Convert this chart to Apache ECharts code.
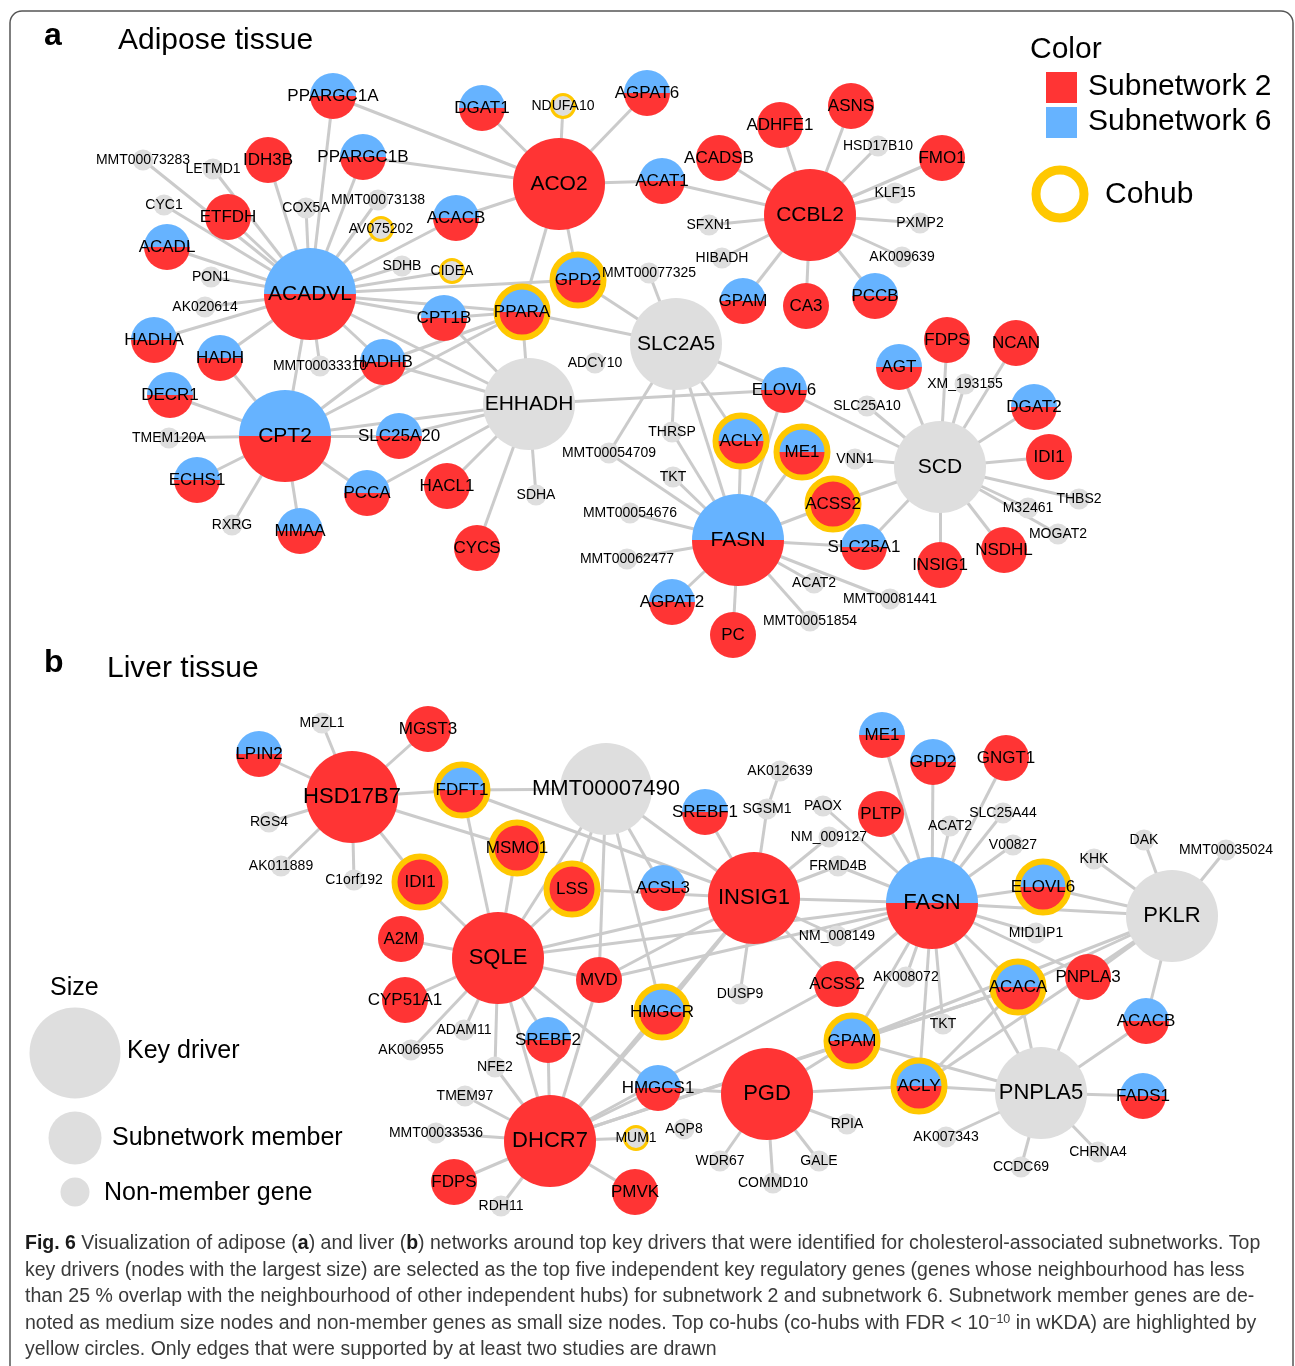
<!DOCTYPE html>
<html>
<head>
<meta charset="utf-8">
<script src="https://cdn.jsdelivr.net/npm/echarts@6/dist/echarts.min.js"></script>
<style>
  html, body { margin: 0; padding: 0; background: #fff; }
  #chart { width: 1295px; height: 1366px; }
</style>
</head>
<body>
<div id="chart"></div>
<script>
// node rows: [gene, kind, subnetwork membership, cohub, layoutX, layoutY]
const adiposeNodes = [
  ['MMT00073283', 'gene', '', 0, 143, 160],
  ['LETMD1', 'gene', '', 0, 213, 169],
  ['CYC1', 'gene', '', 0, 164, 205],
  ['COX5A', 'gene', '', 0, 306, 208],
  ['MMT00073138', 'gene', '', 0, 378, 200],
  ['AV075202', 'gene', '', 1, 381, 229],
  ['PON1', 'gene', '', 0, 211, 277],
  ['AK020614', 'gene', '', 0, 205, 307],
  ['SDHB', 'gene', '', 0, 402, 266],
  ['CIDEA', 'gene', '', 1, 452, 271],
  ['NDUFA10', 'gene', '', 1, 563, 106],
  ['MMT00077325', 'gene', '', 0, 649, 273],
  ['SFXN1', 'gene', '', 0, 709, 225],
  ['HIBADH', 'gene', '', 0, 722, 258],
  ['HSD17B10', 'gene', '', 0, 878, 146],
  ['KLF15', 'gene', '', 0, 895, 193],
  ['PXMP2', 'gene', '', 0, 920, 223],
  ['AK009639', 'gene', '', 0, 902, 257],
  ['MMT00033310', 'gene', '', 0, 320, 366],
  ['TMEM120A', 'gene', '', 0, 169, 438],
  ['RXRG', 'gene', '', 0, 232, 525],
  ['ADCY10', 'gene', '', 0, 595, 363],
  ['THRSP', 'gene', '', 0, 672, 432],
  ['MMT00054709', 'gene', '', 0, 609, 453],
  ['TKT', 'gene', '', 0, 673, 477],
  ['SDHA', 'gene', '', 0, 536, 495],
  ['MMT00054676', 'gene', '', 0, 630, 513],
  ['MMT00062477', 'gene', '', 0, 627, 559],
  ['VNN1', 'gene', '', 0, 855, 459],
  ['SLC25A10', 'gene', '', 0, 867, 406],
  ['ACAT2', 'gene', '', 0, 814, 583],
  ['MMT00051854', 'gene', '', 0, 810, 621],
  ['MMT00081441', 'gene', '', 0, 890, 599],
  ['XM_193155', 'gene', '', 0, 965, 384],
  ['THBS2', 'gene', '', 0, 1079, 499],
  ['M32461', 'gene', '', 0, 1028, 508],
  ['MOGAT2', 'gene', '', 0, 1058, 534],
  ['PPARGC1A', 'member', 'S2+S6', 0, 333, 96],
  ['IDH3B', 'member', 'S2', 0, 268, 160],
  ['PPARGC1B', 'member', 'S2+S6', 0, 363, 157],
  ['ETFDH', 'member', 'S2', 0, 228, 217],
  ['ACADL', 'member', 'S2+S6', 0, 167, 247],
  ['HADHA', 'member', 'S2+S6', 0, 154, 340],
  ['HADH', 'member', 'S2+S6', 0, 220, 358],
  ['DECR1', 'member', 'S2+S6', 0, 170, 395],
  ['ECHS1', 'member', 'S2+S6', 0, 197, 480],
  ['MMAA', 'member', 'S2+S6', 0, 300, 531],
  ['PCCA', 'member', 'S2+S6', 0, 367, 493],
  ['SLC25A20', 'member', 'S2+S6', 0, 399, 436],
  ['HADHB', 'member', 'S2+S6', 0, 383, 362],
  ['HACL1', 'member', 'S2', 0, 447, 486],
  ['CYCS', 'member', 'S2', 0, 477, 548],
  ['CPT1B', 'member', 'S2+S6', 0, 444, 318],
  ['ACACB', 'member', 'S2+S6', 0, 456, 218],
  ['DGAT1', 'member', 'S2+S6', 0, 482, 108],
  ['AGPAT6', 'member', 'S2+S6', 0, 647, 93],
  ['ACAT1', 'member', 'S2+S6', 0, 662, 181],
  ['ACADSB', 'member', 'S2', 0, 719, 158],
  ['ADHFE1', 'member', 'S2', 0, 780, 125],
  ['ASNS', 'member', 'S2', 0, 851, 106],
  ['FMO1', 'member', 'S2', 0, 942, 158],
  ['GPAM', 'member', 'S2+S6', 0, 743, 301],
  ['CA3', 'member', 'S2', 0, 806, 306],
  ['PCCB', 'member', 'S2+S6', 0, 875, 296],
  ['GPD2', 'member', 'S2+S6', 1, 578, 280],
  ['PPARA', 'member', 'S2+S6', 1, 522, 312],
  ['ELOVL6', 'member', 'S2+S6', 0, 784, 390],
  ['ACLY', 'member', 'S2+S6', 1, 741, 441],
  ['ME1', 'member', 'S2+S6', 1, 802, 452],
  ['ACSS2', 'member', 'S2', 1, 833, 504],
  ['SLC25A1', 'member', 'S2+S6', 0, 864, 547],
  ['AGPAT2', 'member', 'S2+S6', 0, 672, 602],
  ['PC', 'member', 'S2', 0, 733, 635],
  ['AGT', 'member', 'S2+S6', 0, 899, 367],
  ['FDPS', 'member', 'S2', 0, 947, 340],
  ['NCAN', 'member', 'S2', 0, 1016, 343],
  ['DGAT2', 'member', 'S2+S6', 0, 1034, 407],
  ['IDI1', 'member', 'S2', 0, 1049, 457],
  ['NSDHL', 'member', 'S2', 0, 1004, 550],
  ['INSIG1', 'member', 'S2', 0, 940, 565],
  ['ACADVL', 'hub', 'S2+S6', 0, 310, 294],
  ['CPT2', 'hub', 'S2+S6', 0, 285, 436],
  ['ACO2', 'hub', 'S2', 0, 559, 184],
  ['CCBL2', 'hub', 'S2', 0, 810, 215],
  ['EHHADH', 'hub', '', 0, 529, 404],
  ['SLC2A5', 'hub', '', 0, 676, 344],
  ['FASN', 'hub', 'S2+S6', 0, 738, 540],
  ['SCD', 'hub', '', 0, 940, 467]
];

const adiposeEdges = [
  ['ACADVL', 'PPARGC1A'], ['ACADVL', 'PPARGC1B'], ['ACADVL', 'IDH3B'], ['ACADVL', 'ETFDH'],
  ['ACADVL', 'LETMD1'], ['ACADVL', 'MMT00073283'], ['ACADVL', 'CYC1'], ['ACADVL', 'ACADL'],
  ['ACADVL', 'PON1'], ['ACADVL', 'AK020614'], ['ACADVL', 'HADHA'], ['ACADVL', 'HADH'],
  ['ACADVL', 'COX5A'], ['ACADVL', 'MMT00073138'], ['ACADVL', 'AV075202'], ['ACADVL', 'ACACB'],
  ['ACADVL', 'SDHB'], ['ACADVL', 'CIDEA'], ['ACADVL', 'CPT1B'], ['ACADVL', 'PPARA'],
  ['ACADVL', 'GPD2'], ['ACADVL', 'HADHB'], ['ACADVL', 'EHHADH'], ['ACADVL', 'CPT2'],
  ['ACADVL', 'MMT00033310'],
  ['ACO2', 'PPARGC1A'], ['ACO2', 'PPARGC1B'], ['ACO2', 'ACACB'], ['ACO2', 'DGAT1'],
  ['ACO2', 'NDUFA10'], ['ACO2', 'AGPAT6'], ['ACO2', 'ACAT1'], ['ACO2', 'PPARA'], ['ACO2', 'GPD2'],
  ['CCBL2', 'ACAT1'], ['CCBL2', 'ACADSB'], ['CCBL2', 'ADHFE1'], ['CCBL2', 'ASNS'],
  ['CCBL2', 'HSD17B10'], ['CCBL2', 'FMO1'], ['CCBL2', 'KLF15'], ['CCBL2', 'PXMP2'],
  ['CCBL2', 'AK009639'], ['CCBL2', 'PCCB'], ['CCBL2', 'CA3'], ['CCBL2', 'GPAM'],
  ['CCBL2', 'HIBADH'], ['CCBL2', 'SFXN1'],
  ['CPT2', 'HADH'], ['CPT2', 'DECR1'], ['CPT2', 'TMEM120A'], ['CPT2', 'ECHS1'],
  ['CPT2', 'RXRG'], ['CPT2', 'MMAA'], ['CPT2', 'PCCA'], ['CPT2', 'SLC25A20'],
  ['CPT2', 'HADHB'], ['CPT2', 'PPARA'], ['CPT2', 'EHHADH'],
  ['EHHADH', 'HADHB'], ['EHHADH', 'SLC25A20'], ['EHHADH', 'PCCA'], ['EHHADH', 'HACL1'],
  ['EHHADH', 'CYCS'], ['EHHADH', 'SDHA'], ['EHHADH', 'ELOVL6'], ['EHHADH', 'PPARA'],
  ['EHHADH', 'CPT1B'],
  ['HADHB', 'PPARA'], ['PPARA', 'CPT1B'],
  ['SLC2A5', 'GPD2'], ['SLC2A5', 'PPARA'], ['SLC2A5', 'MMT00077325'], ['SLC2A5', 'THRSP'],
  ['SLC2A5', 'MMT00054709'], ['SLC2A5', 'FASN'], ['SLC2A5', 'ACLY'], ['SLC2A5', 'ELOVL6'],
  ['FASN', 'THRSP'], ['FASN', 'TKT'], ['FASN', 'MMT00054709'], ['FASN', 'MMT00054676'],
  ['FASN', 'MMT00062477'], ['FASN', 'AGPAT2'], ['FASN', 'PC'], ['FASN', 'ACAT2'],
  ['FASN', 'MMT00051854'], ['FASN', 'MMT00081441'], ['FASN', 'SLC25A1'], ['FASN', 'ACSS2'],
  ['FASN', 'ME1'], ['FASN', 'ACLY'], ['FASN', 'ELOVL6'],
  ['SCD', 'AGT'], ['SCD', 'FDPS'], ['SCD', 'XM_193155'], ['SCD', 'NCAN'], ['SCD', 'DGAT2'],
  ['SCD', 'IDI1'], ['SCD', 'THBS2'], ['SCD', 'M32461'], ['SCD', 'MOGAT2'], ['SCD', 'NSDHL'],
  ['SCD', 'INSIG1'], ['SCD', 'SLC25A1'], ['SCD', 'ACSS2'], ['SCD', 'VNN1'],
  ['SCD', 'SLC25A10'], ['SCD', 'ELOVL6']
];

const liverNodes = [
  ['MPZL1', 'gene', '', 0, 322, 723],
  ['RGS4', 'gene', '', 0, 269, 822],
  ['AK011889', 'gene', '', 0, 281, 866],
  ['C1orf192', 'gene', '', 0, 354, 880],
  ['AK012639', 'gene', '', 0, 780, 771],
  ['SGSM1', 'gene', '', 0, 767, 809],
  ['PAOX', 'gene', '', 0, 823, 806],
  ['NM_009127', 'gene', '', 0, 829, 837],
  ['FRMD4B', 'gene', '', 0, 838, 866],
  ['NM_008149', 'gene', '', 0, 837, 936],
  ['ACAT2', 'gene', '', 0, 950, 826],
  ['SLC25A44', 'gene', '', 0, 1003, 813],
  ['V00827', 'gene', '', 0, 1013, 845],
  ['KHK', 'gene', '', 0, 1094, 859],
  ['DAK', 'gene', '', 0, 1144, 840],
  ['MMT00035024', 'gene', '', 0, 1226, 850],
  ['MID1IP1', 'gene', '', 0, 1036, 933],
  ['AK008072', 'gene', '', 0, 906, 977],
  ['DUSP9', 'gene', '', 0, 740, 994],
  ['TKT', 'gene', '', 0, 943, 1024],
  ['RPIA', 'gene', '', 0, 847, 1124],
  ['AK007343', 'gene', '', 0, 946, 1137],
  ['GALE', 'gene', '', 0, 819, 1161],
  ['COMMD10', 'gene', '', 0, 773, 1183],
  ['WDR67', 'gene', '', 0, 720, 1161],
  ['CCDC69', 'gene', '', 0, 1021, 1167],
  ['CHRNA4', 'gene', '', 0, 1098, 1152],
  ['AQP8', 'gene', '', 0, 684, 1129],
  ['MUM1', 'gene', '', 1, 636, 1138],
  ['ADAM11', 'gene', '', 0, 464, 1030],
  ['AK006955', 'gene', '', 0, 411, 1050],
  ['NFE2', 'gene', '', 0, 495, 1067],
  ['TMEM97', 'gene', '', 0, 465, 1096],
  ['MMT00033536', 'gene', '', 0, 436, 1133],
  ['RDH11', 'gene', '', 0, 501, 1206],
  ['LPIN2', 'member', 'S2+S6', 0, 259, 754],
  ['MGST3', 'member', 'S2', 0, 428, 729],
  ['FDFT1', 'member', 'S2+S6', 1, 462, 790],
  ['MSMO1', 'member', 'S2', 1, 517, 848],
  ['IDI1', 'member', 'S2', 1, 420, 882],
  ['LSS', 'member', 'S2', 1, 572, 889],
  ['A2M', 'member', 'S2', 0, 401, 939],
  ['SREBF1', 'member', 'S2+S6', 0, 705, 812],
  ['ACSL3', 'member', 'S2+S6', 0, 663, 888],
  ['ME1', 'member', 'S2+S6', 0, 882, 735],
  ['GPD2', 'member', 'S2+S6', 0, 933, 762],
  ['PLTP', 'member', 'S2', 0, 881, 814],
  ['GNGT1', 'member', 'S2', 0, 1006, 758],
  ['ELOVL6', 'member', 'S2+S6', 1, 1043, 887],
  ['PNPLA3', 'member', 'S2', 0, 1088, 977],
  ['ACACA', 'member', 'S2+S6', 1, 1018, 987],
  ['ACACB', 'member', 'S2+S6', 0, 1146, 1021],
  ['FADS1', 'member', 'S2+S6', 0, 1143, 1096],
  ['ACLY', 'member', 'S2+S6', 1, 919, 1086],
  ['GPAM', 'member', 'S2+S6', 1, 852, 1041],
  ['ACSS2', 'member', 'S2', 0, 837, 984],
  ['MVD', 'member', 'S2', 0, 599, 980],
  ['HMGCR', 'member', 'S2+S6', 1, 662, 1012],
  ['CYP51A1', 'member', 'S2', 0, 405, 1000],
  ['SREBF2', 'member', 'S2+S6', 0, 548, 1040],
  ['HMGCS1', 'member', 'S2+S6', 0, 658, 1088],
  ['FDPS', 'member', 'S2', 0, 454, 1182],
  ['PMVK', 'member', 'S2', 0, 635, 1192],
  ['HSD17B7', 'hub', 'S2', 0, 352, 797],
  ['MMT00007490', 'hub', '', 0, 606, 789],
  ['INSIG1', 'hub', 'S2', 0, 754, 898],
  ['FASN', 'hub', 'S2+S6', 0, 932, 903],
  ['PKLR', 'hub', '', 0, 1172, 916],
  ['SQLE', 'hub', 'S2', 0, 498, 958],
  ['PGD', 'hub', 'S2', 0, 767, 1094],
  ['DHCR7', 'hub', 'S2', 0, 550, 1141],
  ['PNPLA5', 'hub', '', 0, 1041, 1093]
];

const liverEdges = [
  ['HSD17B7', 'LPIN2'], ['HSD17B7', 'MPZL1'], ['HSD17B7', 'MGST3'], ['HSD17B7', 'RGS4'],
  ['HSD17B7', 'AK011889'], ['HSD17B7', 'C1orf192'], ['HSD17B7', 'FDFT1'], ['HSD17B7', 'IDI1'],
  ['HSD17B7', 'MSMO1'],
  ['FDFT1', 'MMT00007490'], ['FDFT1', 'INSIG1'], ['FDFT1', 'SQLE'],
  ['SQLE', 'IDI1'], ['SQLE', 'MSMO1'], ['SQLE', 'LSS'], ['SQLE', 'A2M'], ['SQLE', 'CYP51A1'],
  ['SQLE', 'ADAM11'], ['SQLE', 'AK006955'], ['SQLE', 'NFE2'], ['SQLE', 'SREBF2'],
  ['SQLE', 'MVD'], ['SQLE', 'DHCR7'], ['SQLE', 'HMGCS1'], ['SQLE', 'INSIG1'], ['SQLE', 'FASN'],
  ['MMT00007490', 'SQLE'], ['MMT00007490', 'LSS'], ['MMT00007490', 'MVD'],
  ['MMT00007490', 'HMGCR'], ['MMT00007490', 'INSIG1'], ['MMT00007490', 'ACSL3'],
  ['INSIG1', 'SREBF1'], ['INSIG1', 'SGSM1'], ['INSIG1', 'NM_009127'], ['INSIG1', 'FRMD4B'],
  ['INSIG1', 'NM_008149'], ['INSIG1', 'FASN'], ['INSIG1', 'ACSS2'], ['INSIG1', 'DHCR7'],
  ['INSIG1', 'MVD'], ['INSIG1', 'HMGCR'], ['INSIG1', 'LSS'], ['INSIG1', 'DUSP9'],
  ['SGSM1', 'AK012639'],
  ['FASN', 'ME1'], ['FASN', 'GPD2'], ['FASN', 'PLTP'], ['FASN', 'PAOX'], ['FASN', 'GNGT1'],
  ['FASN', 'ACAT2'], ['FASN', 'SLC25A44'], ['FASN', 'V00827'], ['FASN', 'ELOVL6'],
  ['FASN', 'MID1IP1'], ['FASN', 'FRMD4B'], ['FASN', 'NM_008149'], ['FASN', 'AK008072'],
  ['FASN', 'ACSS2'], ['FASN', 'ACACA'], ['FASN', 'PNPLA5'], ['FASN', 'ACLY'], ['FASN', 'GPAM'],
  ['FASN', 'PNPLA3'], ['FASN', 'PKLR'], ['FASN', 'MVD'], ['FASN', 'TKT'],
  ['PKLR', 'KHK'], ['PKLR', 'DAK'], ['PKLR', 'MMT00035024'], ['PKLR', 'ELOVL6'],
  ['PKLR', 'ACACA'], ['PKLR', 'PNPLA3'], ['PKLR', 'ACACB'], ['PKLR', 'GPAM'], ['PKLR', 'ACLY'],
  ['PNPLA5', 'ACACA'], ['PNPLA5', 'PNPLA3'], ['PNPLA5', 'ACACB'], ['PNPLA5', 'FADS1'],
  ['PNPLA5', 'CHRNA4'], ['PNPLA5', 'CCDC69'], ['PNPLA5', 'AK007343'], ['PNPLA5', 'ACLY'],
  ['PNPLA5', 'GPAM'],
  ['GPAM', 'ACACA'], ['ACLY', 'ACACA'],
  ['PGD', 'ACLY'], ['PGD', 'RPIA'], ['PGD', 'GALE'], ['PGD', 'COMMD10'], ['PGD', 'WDR67'],
  ['PGD', 'HMGCS1'], ['PGD', 'GPAM'],
  ['DHCR7', 'NFE2'], ['DHCR7', 'TMEM97'], ['DHCR7', 'MMT00033536'], ['DHCR7', 'FDPS'],
  ['DHCR7', 'RDH11'], ['DHCR7', 'PMVK'], ['DHCR7', 'MUM1'], ['DHCR7', 'SREBF2'],
  ['DHCR7', 'MVD'], ['DHCR7', 'HMGCR'], ['DHCR7', 'HMGCS1'], ['DHCR7', 'GPAM'],
  ['DHCR7', 'ACSS2'], ['DHCR7', 'ACACA']
];

const captionLines = [
  '{b|Fig. 6} Visualization of adipose ({b|a}) and liver ({b|b}) networks around top key drivers that were identified for cholesterol-associated subnetworks. Top',
  'key drivers (nodes with the largest size) are selected as the top five independent key regulatory genes (genes whose neighbourhood has less',
  'than 25 % overlap with the neighbourhood of other independent hubs) for subnetwork 2 and subnetwork 6. Subnetwork member genes are de-',
  'noted as medium size nodes and non-member genes as small size nodes. Top co-hubs (co-hubs with FDR < 10{sup|−10} in wKDA) are highlighted by',
  'yellow circles. Only edges that were supported by at least two studies are drawn'
];

const RED = '#ff3434';
const BLUE = '#66b3ff';
const GREY = '#dedede';
const RING = '#ffc800';
const FONT = 'Liberation Sans, Arial, sans-serif';
const CAPTION_SIZE = 19.5;

function fillFor(member) {
  if (member === 'S2') return RED;
  if (member === 'S2+S6') {
    return new echarts.graphic.LinearGradient(0, 0, 0, 1, [
      { offset: 0, color: BLUE }, { offset: 0.5, color: BLUE },
      { offset: 0.5, color: RED }, { offset: 1, color: RED }
    ]);
  }
  return GREY;
}

function buildNodes(rows, hubFont) {
  return rows.map(([name, kind, member, cohub, x, y]) => {
    let size = kind === 'hub' ? 92 : kind === 'member' ? 46 : 21;
    let fontSize = kind === 'hub' ? hubFont : kind === 'member' ? 17 : 14;
    const itemStyle = { color: fillFor(member), borderWidth: 0 };
    if (cohub) {
      if (kind === 'member') { size = 51; itemStyle.borderWidth = 6; }
      else { size = 23; itemStyle.borderWidth = 3; }
      itemStyle.borderColor = RING;
    }
    return {
      name: name,
      value: [x, y],
      symbolSize: size,
      itemStyle: itemStyle,
      label: { fontSize: fontSize }
    };
  });
}

function buildLinks(edges) {
  return edges.map(([s, t]) => ({ source: s, target: t }));
}

function graphSeries(rows, edges, hubFont) {
  return {
    type: 'graph',
    layout: 'none',
    coordinateSystem: 'cartesian2d',
    xAxisIndex: 0,
    yAxisIndex: 0,
    symbol: 'circle',
    data: buildNodes(rows, hubFont),
    links: buildLinks(edges),
    edgeSymbol: ['none', 'none'],
    lineStyle: { color: '#cbcbcb', width: 3, opacity: 1, curveness: 0 },
    label: {
      show: true,
      position: 'inside',
      color: '#000',
      fontFamily: FONT
    },
    emphasis: { disabled: true },
    silent: true,
    animation: false
  };
}

const chart = echarts.init(document.getElementById('chart'), null, { renderer: 'canvas' });

const legendText = (x, y, text, size) => ({
  type: 'text', x: x, y: y,
  style: { text: text, font: size + 'px ' + FONT, fill: '#000', textVerticalAlign: 'middle' }
});

const option = {
  animation: false,
  backgroundColor: '#fff',
  grid: { left: 0, top: 0, right: 0, bottom: 0 },
  xAxis: { type: 'value', min: 0, max: 1295, show: false },
  yAxis: { type: 'value', min: 0, max: 1366, inverse: true, show: false },
  series: [
    graphSeries(adiposeNodes, adiposeEdges, 21),
    graphSeries(liverNodes, liverEdges, 22)
  ],
  graphic: [
    {
      type: 'rect', z: -10,
      shape: { x: 10, y: 11, width: 1283, height: 1400, r: 12 },
      style: { fill: 'none', stroke: '#555', lineWidth: 1.5 }
    },
    {
      type: 'text', x: 44, y: 36,
      style: { text: 'a', font: 'bold 32px ' + FONT, fill: '#000', textVerticalAlign: 'middle' }
    },
    legendText(118, 41, 'Adipose tissue', 30),
    {
      type: 'text', x: 44, y: 663,
      style: { text: 'b', font: 'bold 32px ' + FONT, fill: '#000', textVerticalAlign: 'middle' }
    },
    legendText(107, 669, 'Liver tissue', 30),
    legendText(1030, 50, 'Color', 30),
    { type: 'rect', shape: { x: 1046, y: 72, width: 31, height: 31 }, style: { fill: RED } },
    { type: 'rect', shape: { x: 1046, y: 107, width: 31, height: 31 }, style: { fill: BLUE } },
    legendText(1088, 87, 'Subnetwork 2', 30),
    legendText(1088, 122, 'Subnetwork 6', 30),
    {
      type: 'circle', shape: { cx: 1060, cy: 194, r: 24 },
      style: { fill: 'none', stroke: RING, lineWidth: 9 }
    },
    legendText(1105, 195, 'Cohub', 30),
    legendText(50, 988, 'Size', 25),
    { type: 'circle', shape: { cx: 75, cy: 1053, r: 45.5 }, style: { fill: GREY } },
    legendText(127, 1051, 'Key driver', 25),
    { type: 'circle', shape: { cx: 75, cy: 1138, r: 26.5 }, style: { fill: GREY } },
    legendText(112, 1138, 'Subnetwork member', 25),
    { type: 'circle', shape: { cx: 75, cy: 1192, r: 14.5 }, style: { fill: GREY } },
    legendText(104, 1193, 'Non-member gene', 25)
  ].concat(captionLines.map((line, i) => ({
    type: 'text', x: 25, y: 1244 + i * 26.5,
    style: {
      text: line,
      font: CAPTION_SIZE + 'px ' + FONT,
      fill: '#3a3a3a',
      textVerticalAlign: 'middle',
      rich: {
        b: { fontWeight: 'bold', fontSize: CAPTION_SIZE, fontFamily: FONT, fill: '#1a1a1a' },
        sup: { fontSize: 12.5, fontFamily: FONT, verticalAlign: 'top', fill: '#3a3a3a' }
      }
    }
  })))
};

chart.setOption(option);
</script>
</body>
</html>
